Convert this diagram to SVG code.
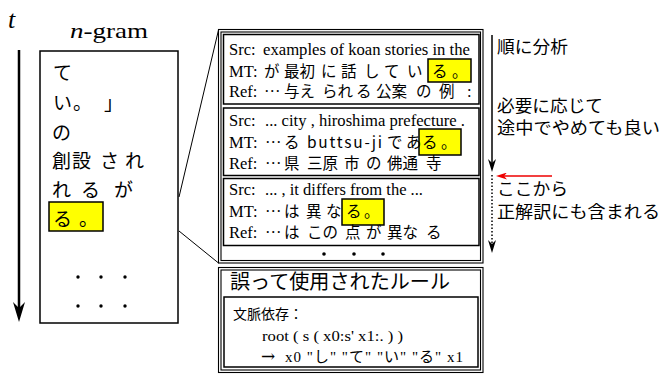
<svg xmlns="http://www.w3.org/2000/svg" width="661" height="374" viewBox="0 0 661 374">
<style>
.lat{font-family:"Liberation Serif","Noto Sans CJK JP",serif;fill:#000}
.jp{font-family:"Noto Sans CJK JP",sans-serif;fill:#000}
.frame{fill:none;stroke:#000;stroke-width:1.1}
.box{fill:none;stroke:#000;stroke-width:1.5}
.hl{fill:#ffff00;stroke:#000;stroke-width:1.5}
.it{font-size:16.5px}
.ij{font-size:15.5px;font-family:"Noto Sans CJK JP",sans-serif}
.ng{font-size:19px}
.note{font-size:16.5px}
.dot{fill:#000}
</style>
<defs>
<marker id="ahT" viewBox="0 0 20 12" refX="8" refY="6" markerUnits="userSpaceOnUse" markerWidth="20" markerHeight="12" orient="auto"><path d="M0,0 L20,6 L0,12 L6,6 z" fill="#000"/></marker>
<marker id="ahS" viewBox="0 0 13 8" refX="9" refY="4" markerUnits="userSpaceOnUse" markerWidth="13" markerHeight="8" orient="auto"><path d="M0,0 L13,4 L0,8 L4,4 z" fill="#000"/></marker>
<marker id="ahR" viewBox="0 0 11 7" refX="7" refY="3.5" markerUnits="userSpaceOnUse" markerWidth="11" markerHeight="7" orient="auto"><path d="M0,0 L11,3.5 L0,7 L3,3.5 z" fill="#ee0000"/></marker>
</defs>

<g id="time-axis">
<text class="lat" x="8" y="28" font-size="26" font-style="italic">t</text>
</g>

<g id="ngram">
<text class="lat" x="70" y="38" font-size="21" textLength="78" lengthAdjust="spacingAndGlyphs"><tspan font-style="italic">n</tspan>-gram</text>
<rect class="box" x="40" y="51" width="138" height="272"/>
<rect class="hl" x="49" y="202" width="54" height="29"/>
<text class="jp ng" y="80"><tspan x="53">て</tspan></text>
<text class="jp ng" y="110"><tspan x="53">い</tspan><tspan x="73">。</tspan><tspan x="104">」</tspan></text>
<text class="jp ng" y="140"><tspan x="52">の</tspan></text>
<text class="jp ng" y="168"><tspan x="52">創</tspan><tspan x="72">設</tspan><tspan x="100">さ</tspan><tspan x="125">れ</tspan></text>
<text class="jp ng" y="197"><tspan x="52">れ</tspan><tspan x="81">る</tspan><tspan x="114">が</tspan></text>
<text class="jp ng" y="226"><tspan x="53">る</tspan><tspan x="79">。</tspan></text>
<circle class="dot" cx="78" cy="277" r="1.7"/><circle class="dot" cx="101" cy="277" r="1.7"/><circle class="dot" cx="125" cy="277" r="1.7"/>
<circle class="dot" cx="78" cy="306" r="1.7"/><circle class="dot" cx="101" cy="306" r="1.7"/><circle class="dot" cx="125" cy="306" r="1.7"/>
</g>

<g id="examples">
<rect class="frame" x="218.5" y="29.5" width="264.5" height="233.5"/>
<rect class="frame" x="221" y="32" width="259.5" height="228.5"/>
<g id="example-1">
<rect class="box" x="223.5" y="34.5" width="255.5" height="69.5"/>
<rect class="hl" x="428" y="59" width="43" height="23"/>
<text class="lat it" x="229" y="55">Src:</text>
<text class="lat it" x="263" y="55" textLength="207" lengthAdjust="spacingAndGlyphs">examples of koan stories in the</text>
<text class="lat it" y="77"><tspan x="229">MT:</tspan><tspan class="ij" x="264">が</tspan><tspan class="ij" x="284">最初</tspan><tspan class="ij" x="321">に</tspan><tspan class="ij" x="341">話</tspan><tspan class="ij" x="364">し</tspan><tspan class="ij" x="384">て</tspan><tspan class="ij" x="407">い</tspan><tspan class="ij" x="432">る</tspan><tspan class="ij" x="452">。</tspan></text>
<text class="lat it" y="97"><tspan x="229">Ref:</tspan><tspan x="264">···</tspan><tspan class="ij" x="284">与え</tspan><tspan class="ij" x="322">られ</tspan><tspan class="ij" x="356">る</tspan><tspan class="ij" x="376">公案</tspan><tspan class="ij" x="416">の</tspan><tspan class="ij" x="439">例</tspan><tspan x="467">:</tspan></text>
</g>
<g id="example-2">
<rect class="box" x="223.5" y="108" width="255.5" height="67.5"/>
<rect class="hl" x="419" y="129" width="42" height="26"/>
<text class="lat it" x="229" y="126">Src:</text>
<text class="lat it" x="265" y="126" textLength="200" lengthAdjust="spacingAndGlyphs">... city , hiroshima prefecture .</text>
<text class="lat it" y="148"><tspan x="229">MT:</tspan><tspan x="265">···</tspan><tspan class="ij" x="284">る</tspan><tspan class="ij" x="387">で</tspan><tspan class="ij" x="406">あ</tspan><tspan class="ij" x="422">る</tspan><tspan class="ij" x="441">。</tspan></text>
<text class="jp" x="307" y="148" font-size="15.5" textLength="75" lengthAdjust="spacing">buttsu-ji</text>
<text class="lat it" y="169"><tspan x="229">Ref:</tspan><tspan x="265">···</tspan><tspan class="ij" x="284">県</tspan><tspan class="ij" x="307">三原</tspan><tspan class="ij" x="344">市</tspan><tspan class="ij" x="366">の</tspan><tspan class="ij" x="387">佛通</tspan><tspan class="ij" x="426">寺</tspan></text>
</g>
<g id="example-3">
<rect class="box" x="223.5" y="178.5" width="255.5" height="67"/>
<rect class="hl" x="342" y="199" width="42" height="26"/>
<text class="lat it" x="229" y="195">Src:</text>
<text class="lat it" x="265" y="195" textLength="158" lengthAdjust="spacingAndGlyphs">... , it differs from the ...</text>
<text class="lat it" y="217"><tspan x="229">MT:</tspan><tspan x="265">···</tspan><tspan class="ij" x="284">は</tspan><tspan class="ij" x="306">異</tspan><tspan class="ij" x="326">な</tspan><tspan class="ij" x="346">る</tspan><tspan class="ij" x="364">。</tspan></text>
<text class="lat it" y="238"><tspan x="229">Ref:</tspan><tspan x="265">···</tspan><tspan class="ij" x="284">は</tspan><tspan class="ij" x="307">この</tspan><tspan class="ij" x="345">点</tspan><tspan class="ij" x="366">が</tspan><tspan class="ij" x="387">異な</tspan><tspan class="ij" x="426">る</tspan></text>
</g>
<circle class="dot" cx="324" cy="254" r="1.8"/><circle class="dot" cx="354" cy="254" r="1.8"/><circle class="dot" cx="383" cy="254" r="1.8"/>
</g>

<g id="rule">
<rect class="frame" x="218.5" y="267.5" width="264.5" height="105"/>
<rect class="frame" x="221" y="270" width="259.5" height="100"/>
<text class="jp" x="230" y="289" font-size="20" textLength="220" lengthAdjust="spacingAndGlyphs">誤って使用されたルール</text>
<rect class="box" x="224" y="297" width="254" height="70"/>
<text class="jp" x="233" y="319" font-size="14">文脈依存：</text>
<text class="lat" x="262" y="341" font-size="15" textLength="141" lengthAdjust="spacingAndGlyphs">root ( s ( x0:s' x1:. ) )</text>
<text x="261" y="362" font-family="DejaVu Serif" font-size="17">→</text>
<text class="lat" x="285" y="362" font-size="15" textLength="178" lengthAdjust="spacing">x0 "し" "て" "い" "る" x1</text>
</g>

<g id="notes">
<text class="jp note" x="497" y="53" textLength="71" lengthAdjust="spacingAndGlyphs">順に分析</text>
<text class="jp note" x="497" y="112" textLength="106" lengthAdjust="spacingAndGlyphs">必要に応じて</text>
<text class="jp note" x="497" y="134" textLength="163" lengthAdjust="spacingAndGlyphs">途中でやめても良い</text>
<text class="jp note" x="497" y="195" textLength="71" lengthAdjust="spacingAndGlyphs">ここから</text>
<text class="jp note" x="497" y="218" textLength="163" lengthAdjust="spacingAndGlyphs">正解訳にも含まれる</text>
</g>

<g id="connectors">
<line x1="19" y1="50" x2="19" y2="310" stroke="#000" stroke-width="2.5" marker-end="url(#ahT)"/>
<line x1="179" y1="197" x2="218.5" y2="30" stroke="#000" stroke-width="1"/>
<line x1="179" y1="231" x2="218.5" y2="263" stroke="#000" stroke-width="1"/>
<line x1="492" y1="35" x2="492" y2="168" stroke="#000" stroke-width="1.5" marker-end="url(#ahS)"/>
<line x1="492" y1="175" x2="492" y2="249" stroke="#000" stroke-width="1.5" stroke-dasharray="1.5 2" marker-end="url(#ahS)"/>
<line x1="552" y1="176" x2="500" y2="176" stroke="#ee0000" stroke-width="1.5" marker-end="url(#ahR)"/>
</g>
</svg>
